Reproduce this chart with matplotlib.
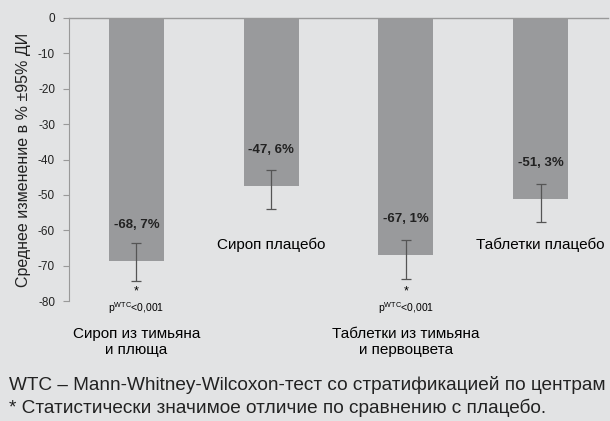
import numpy as np
import matplotlib
matplotlib.use('Agg')
from matplotlib import pyplot as plt

plt.rcParams['font.family'] = ['Liberation Sans', 'DejaVu Sans']

# data
groups = ['Сироп из тимьяна\nи плюща', 'Сироп плацебо',
          'Таблетки из тимьяна\nи первоцвета', 'Таблетки плацебо']
means = [-68.7, -47.6, -67.1, -51.3]
ci_upper = [-63.6, -42.9, -62.7, -46.9]
ci_lower = [-74.3, -53.9, -73.7, -57.8]
value_labels = ['-68, 7%', '-47, 6%', '-67, 1%', '-51, 3%']
significant = [True, False, True, False]
yticks = [0, -10, -20, -30, -40, -50, -60, -70, -80]

bg = '#e2e3e4'
fig = plt.figure(figsize=(6.1, 4.21), dpi=100, facecolor=bg)
ax = fig.add_axes([69/610, 1-301/421, (608-69)/610, 283/421])
ax.set_facecolor(bg)

x = np.arange(len(means))
ax.bar(x, means, width=0.41, color='#999a9c', zorder=2)
ax.errorbar(x, means, yerr=[np.array(means) - np.array(ci_lower), np.array(ci_upper) - np.array(means)],
            fmt='none', ecolor='#555555', elinewidth=0.9, capsize=3.5, capthick=0.9, zorder=3)

ax.set_xlim(-0.5, 3.5)
ax.set_ylim(-80, 0)
ax.set_yticks(yticks)
ax.set_yticklabels([str(t) for t in yticks], fontsize=8.5, color='#222222')
ax.tick_params(axis='y', length=4, width=0.8, color='#999999', pad=6)
ax.set_xticks([])
for s in ['right', 'bottom']:
    ax.spines[s].set_visible(False)
ax.spines['left'].set_color('#999999')
ax.spines['top'].set_color('#999999')
ax.spines['top'].set_linewidth(1.0)
ax.set_ylabel('Среднее изменение в % ±95% ДИ', fontsize=11.5, color='#222222', labelpad=5)

for i, (m, lab) in enumerate(zip(means, value_labels)):
    ax.text(i, m + 10.3, lab, ha='center', va='center', fontsize=9.5,
            fontweight='bold', color='#222222')

for i, g in enumerate(groups):
    if significant[i]:
        ax.text(i, -77.2, '*', ha='center', va='center', fontsize=9, clip_on=False)
        ax.text(i, -82.0, r'p$^{\mathregular{WTC}}$<0,001', ha='center', va='center',
                fontsize=7.5, clip_on=False)
        ax.text(i, -91.5, g, ha='center', va='center', fontsize=11,
                linespacing=1.2, clip_on=False)
    else:
        ax.text(i, -64.2, g, ha='center', va='center', fontsize=11, clip_on=False)

fig.text(9/610, 1-385/421, 'WTC – Mann-Whitney-Wilcoxon-тест со стратификацией по центрам',
         fontsize=13.7, va='center', ha='left', color='#222222')
fig.text(9/610, 1-408/421, '* Статистически значимое отличие по сравнению с плацебо.',
         fontsize=13.7, va='center', ha='left', color='#222222')

plt.savefig('out.png', dpi=100, facecolor=bg)
